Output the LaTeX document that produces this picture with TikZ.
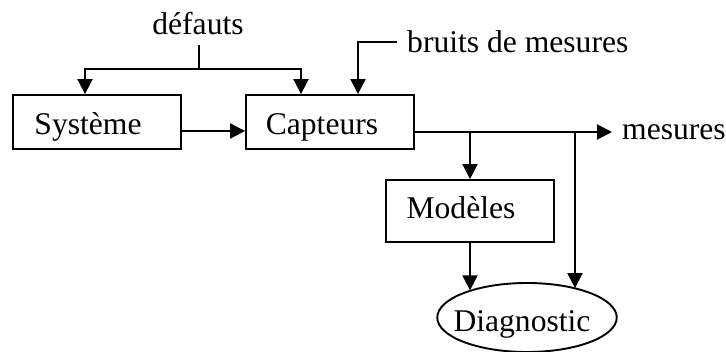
\documentclass[tikz,border=0pt]{standalone}
\usepackage{fontspec}
\setmainfont{Liberation Serif}
\usetikzlibrary{arrows.meta,shapes.geometric}
\begin{document}
\begin{tikzpicture}[x=1pt,y=-1pt,
  every node/.style={font=\fontsize{31.6}{36}\selectfont},
  blk/.style={draw,line width=1.9pt,rectangle,inner sep=0pt,minimum width=168pt},
  lbl/.style={inner sep=0pt,anchor=base west},
  ln/.style={line width=2pt},
  arr/.style={line width=2pt,-{Triangle[length=15pt,width=15pt]}}]
\useasboundingbox (0,0) rectangle (726,352);
\node[blk,minimum height=54pt,text height=28pt,text depth=2pt] (sys) at (97,122) {\hspace*{-18pt}Système};
\node[blk,minimum height=54pt,text height=28pt,text depth=2pt] (cap) at (330,122) {\hspace*{-16pt}Capteurs};
\node[blk,minimum height=62pt,text height=20pt,text depth=4pt] (mod) at (470,211) {\hspace*{-18pt}Modèles};
\node[draw,line width=1.9pt,ellipse,inner sep=0pt,minimum width=169pt,minimum height=69pt,text height=31pt,text depth=2pt] (diag) at (527,317.5) {\hspace*{-10pt}Diagnostic};
\node[inner sep=0pt,anchor=base] (def) at (198,35) {défauts};
\node[lbl] (bru) at (407,53) {bruits de mesures};
\node[lbl] (mes) at (622,140) {mesures};
\coordinate (dt) at (199,45);
\coordinate (dj) at (199,69);
\coordinate (bn) at (397,42);
\coordinate (mt) at (612,132);
\coordinate (b1) at (470,132);
\coordinate (b2) at (575,132);
\draw[ln] (dt) -- (dj);
\draw[arr] (dj) -| ([xshift=-12pt]sys.north);
\draw[arr] (dj) -| ([xshift=-29pt]cap.north);
\draw[arr] (bn) -| ([xshift=28pt]cap.north);
\draw[arr] ([yshift=-9pt]sys.east) -- ([yshift=-9pt]cap.west);
\draw[arr] ([yshift=-10pt]cap.east) -- (mt);
\draw[arr] (b1) -- (b1 |- mod.north);
\draw[arr] (b2) -- (b2 |- diag.30.6);
\draw[arr] (mod.south) -- (mod.south |- diag.155.9);
\end{tikzpicture}
\end{document}
